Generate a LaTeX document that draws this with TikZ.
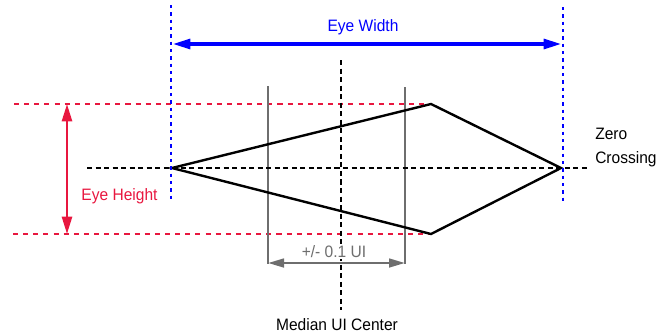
\documentclass[tikz,border=0pt]{standalone}
\usepackage{fontspec}
\setmainfont[FakeStretch=0.94]{Liberation Sans}
\usepackage{tikz}
\usetikzlibrary{arrows.meta,positioning}
\definecolor{EyeBlue}{HTML}{0000FF}
\definecolor{EyeRed}{HTML}{E8173F}
\definecolor{EyeGray}{HTML}{6E6E6E}
\definecolor{EyeInk}{HTML}{000000}
\tikzset{
  eyText/.style={
    font=\fontsize{12.4pt}{18pt}\selectfont,
    inner sep=0.8pt,
    anchor=base
  },
  eyEdge/.style={
    line width=1.8pt,
    color=EyeInk,
    line join=miter
  },
  eyAxis/.style={
    line width=1.8pt,
    color=EyeInk,
    dash pattern=on 3.8pt off 2.6pt
  },
  eyLimit/.style={
    line width=1.4pt,
    color=EyeRed,
    dash pattern=on 3.8pt off 3.8pt
  },
  eyBound/.style={
    line width=2pt,
    color=EyeBlue,
    dash pattern=on 2.5pt off 3pt
  },
  eyJitter/.style={
    line width=1.6pt,
    color=EyeGray
  },
  eyArrowBlue/.style={
    line width=2.3pt,
    color=EyeBlue,
    {Triangle[length=13pt,width=7.5pt]}-{Triangle[length=13pt,width=7.5pt]}
  },
  eyArrowRed/.style={
    line width=1.9pt,
    color=EyeRed,
    {Triangle[length=13pt,width=7.5pt]}-{Triangle[length=13pt,width=7.5pt]}
  },
  eyArrowGray/.style={
    line width=1.9pt,
    color=EyeGray,
    {Triangle[length=12pt,width=6.5pt]}-{Triangle[length=12pt,width=6.5pt]}
  }
}
\begin{document}
\begin{tikzpicture}[x=0.75pt, y=-0.75pt]
        \useasboundingbox (0,0) rectangle (670,333);
        % eye corners
        \coordinate (eyeL) at (172,168);
        \coordinate (eyeT) at (431,104);
        \coordinate (eyeR) at (561,168);
        \coordinate (eyeB) at (431,234);
        % guide ends
        \coordinate (hiW) at (14,104);
        \coordinate (loW) at (13,234);
        \coordinate (hgtT) at (67,104);
        \coordinate (hgtB) at (67,234);
        \coordinate (zeroW) at (87,168);
        \coordinate (zeroE) at (588,168);
        \coordinate (medN) at (341,60);
        \coordinate (medS) at (341,310);
        \coordinate (wdLN) at (171,5);
        \coordinate (wdLS) at (171,200);
        \coordinate (wdRN) at (563,7);
        \coordinate (wdRS) at (563,203);
        \coordinate (wdArrL) at (173,44);
        \coordinate (wdArrR) at (561,44);
        \coordinate (jtLN) at (268,86);
        \coordinate (jtLS) at (268,264);
        \coordinate (jtRN) at (405,87);
        \coordinate (jtRS) at (405,264);
        \coordinate (jtArrL) at (268,263);
        \coordinate (jtArrR) at (405,263);

        \draw [eyLimit] (hiW) -- (eyeT);
        \draw [eyLimit] (loW) -- (eyeB);
        \draw [eyArrowRed] (hgtT) -- (hgtB);

        \draw [eyJitter] (jtLN) -- (jtLS);
        \draw [eyJitter] (jtRN) -- (jtRS);

        \draw [eyAxis] (zeroW) -- (zeroE);
        \draw [eyAxis] (medN) -- (medS);

        \draw [eyEdge] (eyeL) -- (eyeT) -- (eyeR) -- (eyeB) -- cycle;

        \draw [eyBound] (wdLN) -- (wdLS);
        \draw [eyBound] (wdRN) -- (wdRS);
        \draw [eyArrowBlue] (wdArrL) -- (wdArrR);

        \node (lblWidth) [eyText, text=EyeBlue] at (363,31) {Eye Width};
        \node (lblHeight) [eyText, text=EyeRed] at (119.5,200) {Eye Height};
        \node (lblJitter) [eyText, text=EyeGray, fill=white] at (334,257.5) {+/- 0.1 UI};
        \node (lblMedian) [eyText] at (337,330) {Median UI Center};
        \node (lblZero) [eyText, anchor=base west, align=left, inner sep=0pt] at (595,163) {Zero\\Crossing};

        \draw [eyArrowGray] (jtArrL) -- (jtArrR);
      \end{tikzpicture}
\end{document}
